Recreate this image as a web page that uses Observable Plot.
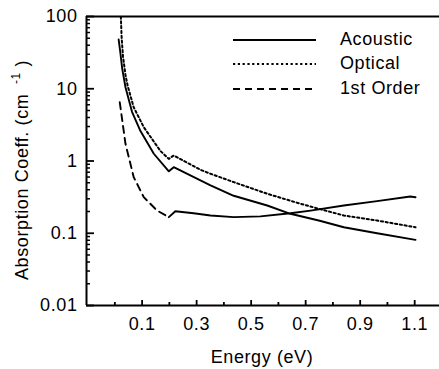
<!DOCTYPE html>
<html>
<head>
<meta charset="utf-8">
<script src="https://cdn.jsdelivr.net/npm/d3@7"></script>
<script src="https://cdn.jsdelivr.net/npm/@observablehq/plot@0.6"></script>
<style>
  html, body { margin: 0; padding: 0; background: #fff; }
  svg { display: block; }
</style>
</head>
<body>
<div id="chart"></div>
<script>
// ---- data ----
const acousticE = [0.014, 0.020, 0.027, 0.039, 0.063, 0.094, 0.143, 0.198, 0.216, 0.314, 0.351, 0.436, 0.559, 0.644, 0.748, 0.840, 0.962, 1.103];
const acousticV = [48, 32, 19, 10.5, 4.8, 2.6, 1.26, 0.72, 0.82, 0.54, 0.46, 0.33, 0.242, 0.186, 0.150, 0.121, 0.100, 0.081];

const opticalE = [0.022, 0.025, 0.030, 0.039, 0.047, 0.069, 0.106, 0.155, 0.167, 0.198, 0.216, 0.314, 0.351, 0.436, 0.559, 0.681, 0.748, 0.840, 0.962, 1.103];
const opticalV = [100, 50, 28, 15.5, 11, 5.56, 2.94, 1.6, 1.38, 1.07, 1.19, 0.755, 0.665, 0.51, 0.352, 0.256, 0.218, 0.176, 0.150, 0.121];

const firstOrderE = [0.018, 0.039, 0.069, 0.106, 0.155, 0.198];
const firstOrderV = [6.5, 1.73, 0.60, 0.316, 0.206, 0.167];

const firstOrderHighE = [0.198, 0.222, 0.289, 0.351, 0.436, 0.534, 0.644, 0.718, 0.840, 0.962, 1.084, 1.103];
const firstOrderHighV = [0.167, 0.202, 0.189, 0.176, 0.167, 0.171, 0.189, 0.206, 0.242, 0.278, 0.323, 0.315];

const yMajorTicks = [0.01, 0.1, 1, 10, 100];
const yTickLabels = ["0.01", "0.1", "1", "10", "100"];
const xMajorTicks = [0.1, 0.3, 0.5, 0.7, 0.9, 1.1];
const xTickLabels = ["0.1", "0.3", "0.5", "0.7", "0.9", "1.1"];
const xMinorTicks = [0.0, 0.2, 0.4, 0.6, 0.8, 1.0];
const yMinorTicks = [];
for (const d of [0.01, 0.1, 1, 10]) for (let m = 2; m <= 9; m++) yMinorTicks.push(+(d * m).toPrecision(3));

const legendNames = ["Acoustic", "Optical", "1st Order"];
const xLabel = "Energy (eV)";

const zip = (E, V) => E.map((e, i) => ({e, v: V[i]}));
const acoustic = zip(acousticE, acousticV);
const optical = zip(opticalE, opticalV);
const firstOrder = zip(firstOrderE, firstOrderV);
const firstOrderHigh = zip(firstOrderHighE, firstOrderHighV);

const FONT = "'Liberation Sans', Arial, Helvetica, sans-serif";
const W = 439, H = 369, ML = 86, MR = 0, MT = 16, MB = 64;
const xDomain = [-0.104, 1.191];
const yDomain = [0.01, 100];
// tick lengths (px) converted into the scales' units so the ticks point inward
const xUnitsPerPx = (xDomain[1] - xDomain[0]) / (W - ML - MR);
const decadesPerPx = Math.log10(yDomain[1] / yDomain[0]) / (H - MT - MB);
const xIn = (px) => xDomain[0] + px * xUnitsPerPx;
const yIn = (px) => yDomain[0] * Math.pow(10, px * decadesPerPx);

const chart = Plot.plot({
  width: W,
  height: H,
  marginLeft: ML,
  marginRight: MR,
  marginTop: MT,
  marginBottom: MB,
  style: {fontFamily: FONT, fontSize: "18px", letterSpacing: "0.6px", color: "#000", background: "#fff", overflow: "visible"},
  x: {domain: xDomain},
  y: {type: "log", domain: yDomain},
  marks: [
    // frame (left, bottom, top)
    Plot.ruleX([xDomain[0]], {stroke: "#000", strokeWidth: 2}),
    Plot.ruleY(yDomain, {stroke: "#000", strokeWidth: 2}),
    // y axis labels + inward ticks
    Plot.axisY({ticks: yMajorTicks, tickFormat: (d) => yTickLabels[yMajorTicks.indexOf(d)], tickSize: 0, tickPadding: 9, label: null}),
    Plot.ruleY(yMajorTicks, {y: (d) => d, x1: xDomain[0], x2: xIn(8), stroke: "#000", strokeWidth: 1.8}),
    Plot.ruleY(yMinorTicks, {y: (d) => d, x1: xDomain[0], x2: xIn(4), stroke: "#000", strokeWidth: 1.5}),
    // x axis labels + inward ticks
    Plot.axisX({ticks: xMajorTicks, tickFormat: (d) => xTickLabels[xMajorTicks.indexOf(d)], tickSize: 0, tickPadding: 12, label: null}),
    Plot.ruleX(xMajorTicks, {x: (d) => d, y1: yDomain[0], y2: yIn(5), stroke: "#000", strokeWidth: 1.8}),
    Plot.ruleX(xMinorTicks, {x: (d) => d, y1: yDomain[0], y2: yIn(3), stroke: "#000", strokeWidth: 1.8}),
    // curves
    Plot.line(optical, {x: "e", y: "v", stroke: "#000", strokeWidth: 2, strokeDasharray: "2.2,2.6", clip: true}),
    Plot.line(acoustic, {x: "e", y: "v", stroke: "#000", strokeWidth: 1.9, clip: true}),
    Plot.line(firstOrder, {x: "e", y: "v", stroke: "#000", strokeWidth: 1.9, strokeDasharray: "7,5", clip: true}),
    Plot.line(firstOrderHigh, {x: "e", y: "v", stroke: "#000", strokeWidth: 1.9, clip: true})
  ]
});

document.getElementById("chart").appendChild(chart);

const svg = d3.select(chart);

// legend
const legendRows = [
  {name: legendNames[0], y: 40, dash: null},
  {name: legendNames[1], y: 64, dash: "2.2,2.6"},
  {name: legendNames[2], y: 89, dash: "7,5"}
];
const lg = svg.append("g").attr("font-family", FONT).attr("font-size", 18).attr("text-anchor", "start").style("letter-spacing", "0.6px");
legendRows.forEach((r) => {
  lg.append("line")
    .attr("x1", 233).attr("x2", 316).attr("y1", r.y).attr("y2", r.y)
    .attr("stroke", "#000").attr("stroke-width", 1.9)
    .attr("stroke-dasharray", r.dash);
  lg.append("text")
    .attr("x", 340).attr("y", r.y + 5)
    .attr("text-anchor", "start")
    .attr("fill", "#000")
    .text(r.name);
});

// x label
svg.append("text")
  .attr("x", 262).attr("y", 363)
  .attr("text-anchor", "middle")
  .attr("font-family", FONT).attr("font-size", 18)
  .style("letter-spacing", "0.6px")
  .attr("fill", "#000")
  .text(xLabel);

// y label with superscript
const yl = svg.append("text")
  .attr("transform", "translate(28,170) rotate(-90)")
  .attr("text-anchor", "middle")
  .attr("font-family", FONT).attr("font-size", 18)
  .style("letter-spacing", "0.6px")
  .attr("fill", "#000");
yl.append("tspan").text("Absorption Coeff. (cm ");
yl.append("tspan").attr("font-size", 12).attr("dy", -8).text(" -1");
yl.append("tspan").attr("dy", 8).text(" )");
</script>
</body>
</html>
